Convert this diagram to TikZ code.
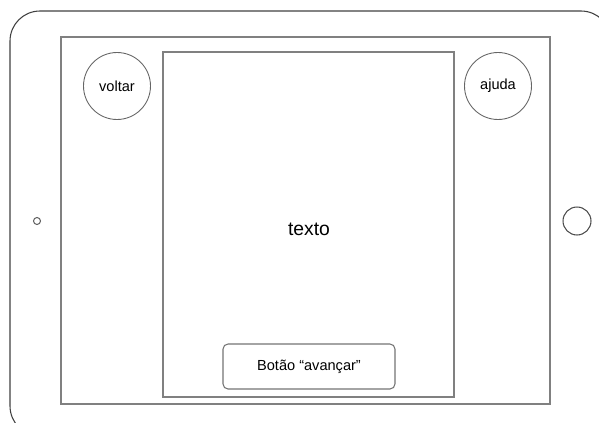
\documentclass[tikz,border=0pt]{standalone}
\usepackage{fontspec}
\setmainfont{Liberation Sans}
\begin{document}
\begin{tikzpicture}[x=0.02cm, y=-0.02cm,
    roundbtn/.style={circle, draw=black!60, line width=0.5pt, minimum size=1.34cm, inner sep=0pt, font=\fontsize{8.3}{10}\selectfont},
    nextbtn/.style={rectangle, rounded corners=0.1cm, draw=black!55, line width=0.6pt, minimum width=3.44cm, minimum height=0.9cm, font=\fontsize{8.3}{10}\selectfont}]
                \useasboundingbox (0,0) rectangle (599,423);
                \clip (0,0) rectangle (599,423);

                % aparelho
                \draw[black!75, line width=0.6pt, rounded corners=0.6cm] (10,11) rectangle (611,436);
                \draw[black!50, line width=0.7pt] (61,37) rectangle (550,404);
                \draw[black!50, line width=0.6pt] (163,52) rectangle (454,397);

                \node[circle, draw=black!60, line width=0.6pt, minimum size=0.14cm, inner sep=0pt] (camera) at (37,221) {};
                \node[circle, draw=black!70, line width=0.6pt, minimum size=0.56cm, inner sep=0pt] (home) at (577,221) {};

                % botoes
                \node[roundbtn] (voltar) at (117,86) {voltar};
                \node[roundbtn] (ajuda) at (498,86) {ajuda};
                \node[font=\fontsize{11}{13}\selectfont] (texto) at (309,229) {texto};
                \node[nextbtn] (avancar) at (309,366.5) {Botão “avançar”};
            \end{tikzpicture}
\end{document}
